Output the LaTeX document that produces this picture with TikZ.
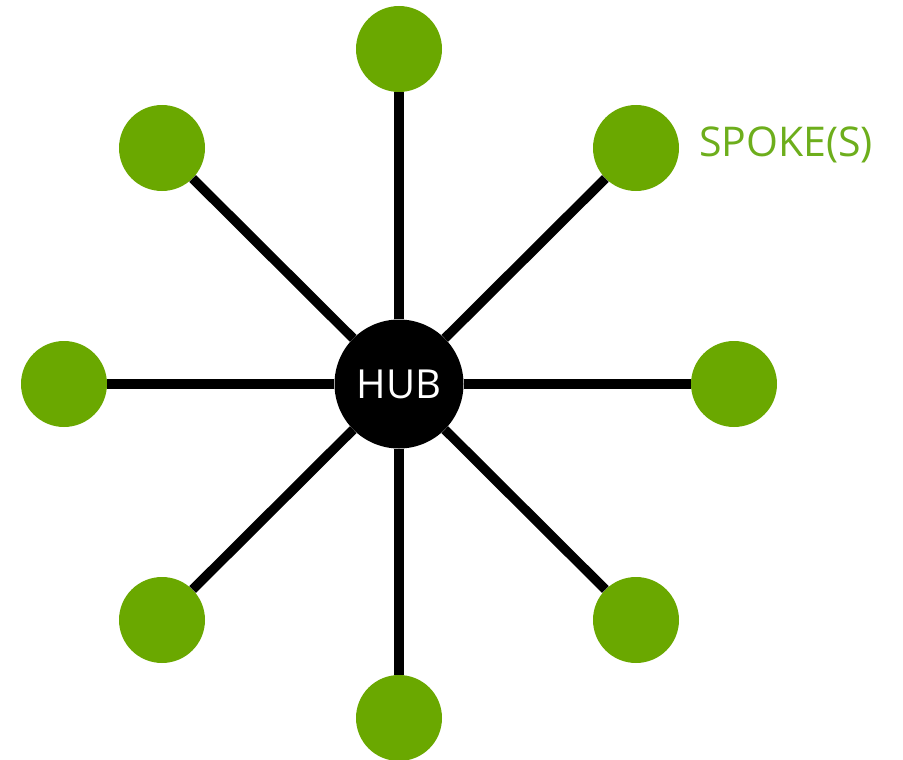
\documentclass[tikz,border=0pt]{standalone}
\usepackage{fontspec}
\setmainfont{Open Sans}
\definecolor{spokegreen}{HTML}{6AA800}
\definecolor{labelgreen}{HTML}{6DAE1C}
\begin{document}
\begin{tikzpicture}[x=1pt,y=-1pt,
  spoke/.style={circle,fill=spokegreen,minimum size=86pt,inner sep=0pt},
  hub/.style={circle,fill=black,minimum size=129pt,inner sep=0pt,text=white,
    font=\fontsize{40}{48}\selectfont,text height=29pt,text depth=-2pt},
  link/.style={line width=9.5pt,black}]
\useasboundingbox (0,0) rectangle (903,760);
\node[hub] (hub) at (399,384) {HUB};
\node[spoke] (n) at (399,49) {};
\node[spoke] (ne) at (636,148) {};
\node[spoke] (e) at (734,384) {};
\node[spoke] (se) at (636,620) {};
\node[spoke] (s) at (399,718) {};
\node[spoke] (sw) at (162,620) {};
\node[spoke] (w) at (64,384) {};
\node[spoke] (nw) at (162,148) {};
\foreach \t in {n,ne,e,se,s,sw,w,nw}{
  \draw[link] (hub) -- (\t);
}
\node[anchor=base west,text=labelgreen,font=\fontsize{41}{48}\selectfont,inner sep=0pt] (lbl) at (699,157) {SPOKE(S)};
\end{tikzpicture}
\end{document}
